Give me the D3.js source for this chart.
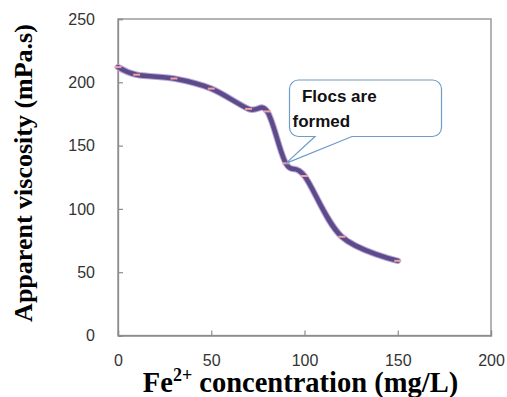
<!DOCTYPE html>
<html>
<head>
<meta charset="utf-8">
<script src="https://cdn.jsdelivr.net/npm/d3@7"></script>
<style>
  html, body { margin: 0; padding: 0; background: #fff; }
  svg { display: block; }
</style>
</head>
<body>
<script>
// ---- Data ----
const concentration = [0, 10, 30, 50, 70, 80, 90, 100, 120, 150];
const viscosity = [212, 206, 203, 195, 179, 177, 136, 126, 78, 59];
const xTicks = [0, 50, 100, 150, 200];
const yTicks = [0, 50, 100, 150, 200, 250];
const xTitleMain = "Fe";
const xTitleSup = "2+";
const xTitleRest = " concentration (mg/L)";
const yTitle = "Apparent viscosity (mPa.s)";
const calloutLines = ["\u00a0\u00a0Flocs are", "formed"];
const calloutIndex = 6; // points to the 90 mg/L point

const W = 507, H = 397;
const svg = d3.select("body").append("svg").attr("width", W).attr("height", H);

const x = d3.scaleLinear().domain([0, 200]).range([118, 491]);
const y = d3.scaleLinear().domain([0, 250]).range([335.5, 19]);

const axisColor = "#8c8c8c";

// plot border
svg.append("rect")
  .attr("x", x(0)).attr("y", y(250))
  .attr("width", x(200) - x(0)).attr("height", y(0) - y(250))
  .attr("fill", "none").attr("stroke", axisColor).attr("stroke-width", 1.3);

// y axis
const yAxis = d3.axisLeft(y).tickValues(yTicks).tickSize(-5).tickPadding(23);
const gy = svg.append("g").attr("transform", `translate(${x(0)},0)`).call(yAxis);
gy.select(".domain").attr("stroke", axisColor).attr("stroke-width", 1.3);
gy.selectAll(".tick line").attr("stroke", axisColor).attr("stroke-width", 1.2);
gy.selectAll(".tick text").attr("font-family", "Liberation Sans, Arial, sans-serif")
  .attr("font-size", 16).attr("fill", "#333");

// x axis
const xAxis = d3.axisBottom(x).tickValues(xTicks).tickSize(-5).tickPadding(19.5);
const gx = svg.append("g").attr("transform", `translate(0,${y(0)})`).call(xAxis);
gx.select(".domain").attr("stroke", axisColor).attr("stroke-width", 1.3);
gx.selectAll(".tick line").attr("stroke", axisColor).attr("stroke-width", 1.2);
gx.selectAll(".tick text").attr("font-family", "Liberation Sans, Arial, sans-serif")
  .attr("font-size", 16).attr("fill", "#333");

// line
const pts = concentration.map((c, i) => [c, viscosity[i]]);
const line = d3.line().x(d => x(d[0])).y(d => y(d[1])).curve(d3.curveCardinal.tension(0));
svg.append("path").attr("d", line(pts)).attr("fill", "none")
  .attr("stroke", "#b9a8d6").attr("stroke-width", 6.5).attr("stroke-linecap", "round");
svg.append("path").attr("d", line(pts)).attr("fill", "none")
  .attr("stroke", "#5c4a8a").attr("stroke-width", 4.5).attr("stroke-linecap", "round");

// dash markers
svg.selectAll("rect.mk").data(pts).enter().append("rect").attr("class", "mk")
  .attr("x", d => x(d[0]) - 3.5).attr("y", d => y(d[1]) - 1)
  .attr("width", 7).attr("height", 2).attr("fill", "#f2a0a0");

// callout
const px = x(concentration[calloutIndex]), py = y(viscosity[calloutIndex]);
const bx0 = 289.5, bx1 = 441.5, by0 = 80, by1 = 136.5, r = 9;
const t0 = 315, t1 = 352;
const cp = d3.path();
cp.moveTo(bx0 + r, by0);
cp.lineTo(bx1 - r, by0);
cp.arcTo(bx1, by0, bx1, by0 + r, r);
cp.lineTo(bx1, by1 - r);
cp.arcTo(bx1, by1, bx1 - r, by1, r);
cp.lineTo(t1, by1);
cp.lineTo(px, py);
cp.lineTo(t0, by1);
cp.lineTo(bx0 + r, by1);
cp.arcTo(bx0, by1, bx0, by1 - r, r);
cp.lineTo(bx0, by0 + r);
cp.arcTo(bx0, by0, bx0 + r, by0, r);
cp.closePath();
svg.append("path").attr("d", cp.toString()).attr("fill", "#fff")
  .attr("stroke", "#6d9cc8").attr("stroke-width", 1.2);

const ct = svg.append("text").attr("font-family", "Liberation Sans, Arial, sans-serif")
  .attr("font-weight", "bold").attr("font-size", 17).attr("fill", "#111");
ct.append("tspan").attr("x", 292.5).attr("y", 101.5).text(calloutLines[0]);
ct.append("tspan").attr("x", 292.5).attr("y", 126.5).text(calloutLines[1]);

// axis titles
const xt = svg.append("text").attr("x", 300.5).attr("y", 392)
  .attr("text-anchor", "middle")
  .attr("font-family", "Liberation Serif, Times New Roman, serif")
  .attr("font-weight", "bold").attr("font-size", 28.5).attr("fill", "#000");
xt.append("tspan").text(xTitleMain);
xt.append("tspan").attr("font-size", 18).attr("dy", -11).text(xTitleSup);
xt.append("tspan").attr("dy", 11).text(xTitleRest);

svg.append("text")
  .attr("transform", "translate(32,173) rotate(-90)")
  .attr("text-anchor", "middle")
  .attr("font-family", "Liberation Serif, Times New Roman, serif")
  .attr("font-weight", "bold").attr("font-size", 26).attr("fill", "#000")
  .text(yTitle);
</script>
</body>
</html>
